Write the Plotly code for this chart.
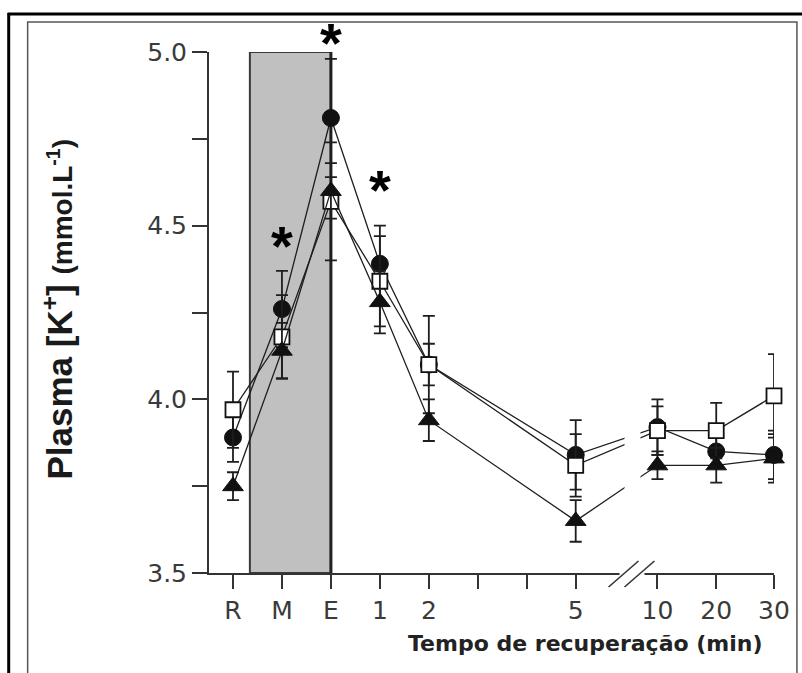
import plotly.graph_objects as go

# ---------------- data ----------------
categories = ["R", "M", "E", "1", "2", "5", "10", "20", "30"]
# positions of the categories on the (broken) x axis
x_axis_pos = [0, 1, 2, 3, 4, 7, 8.67, 9.87, 11.05]
tick_vals = [0, 1, 2, 3, 4, 7, 8.67, 9.87, 11.05]
tick_text = ["R", "M", "E", "1", "2", "5", "10", "20", "30"]
minor_x_ticks = [5, 6]  # unlabelled 3 and 4 min

circle_mean = [3.89, 4.26, 4.81, 4.39, 4.10, 3.84, 3.92, 3.85, 3.84]
circle_err = [0.07, 0.11, 0.17, 0.11, 0.06, 0.10, 0.08, 0.04, 0.07]
square_mean = [3.97, 4.18, 4.57, 4.34, 4.10, 3.81, 3.91, 3.91, 4.01]
square_err = [0.11, 0.12, 0.17, 0.13, 0.14, 0.09, 0.07, 0.08, 0.12]
triangle_mean = [3.75, 4.14, 4.60, 4.28, 3.94, 3.65, 3.81, 3.81, 3.83]
triangle_err = [0.04, 0.08, 0.08, 0.09, 0.06, 0.06, 0.04, 0.05, 0.07]

sig_categories = ["M", "E", "1"]
sig_y = [4.465, 5.049, 4.626]

y_tick_vals = [3.5, 4.0, 4.5, 5.0]
y_tick_text = ["3.5", "4.0", "4.5", "5.0"]
y_minor_ticks = [3.75, 4.25, 4.75]

# ---------------- layout geometry ----------------
W, H = 802, 673
L, R, T, B = 209, 26, 52, 100
PW, PH = W - L - R, H - T - B
X_RANGE = [-0.49, 11.05]
Y_RANGE = [3.5, 5.0]


def px_x(px):
    return (px - L) / PW


def px_y(py):
    return (H - B - py) / PH


LINE = "#1e1e1e"
fig = go.Figure()

series = [
    (circle_mean, circle_err, "circle", "#111111", 17, 1),
    (square_mean, square_err, "square", "white", 15, 1.8),
    (triangle_mean, triangle_err, "triangle-up", "#111111", 18, 1),
]
for mean, err, sym, fill, size, lw in series:
    fig.add_trace(go.Scatter(
        x=x_axis_pos, y=mean, mode="lines+markers",
        line=dict(color=LINE, width=1.3),
        marker=dict(symbol=sym, size=size, color=fill,
                    line=dict(color="#111111", width=lw)),
        error_y=dict(type="data", array=err, visible=True,
                     color=LINE, thickness=1.8, width=6),
        cliponaxis=False, showlegend=False,
    ))

# significance asterisks (y given in data units, mapped onto the y axis span)
for cat, yv in zip(sig_categories, sig_y):
    fig.add_annotation(
        x=x_axis_pos[categories.index(cat)], xref="x",
        y=(yv - Y_RANGE[0]) / (Y_RANGE[1] - Y_RANGE[0]), yref="paper",
        xanchor="center", yanchor="middle",
        text="<b>*</b>", showarrow=False, yshift=-8,
        font=dict(family="Liberation Sans", size=56, color="#000000"),
    )

shapes = []
# grey exercise block
shapes.append(dict(type="rect", xref="x", yref="y", x0=0.345, x1=2,
                   y0=Y_RANGE[0], y1=Y_RANGE[1], fillcolor="#c0c0c0",
                   line=dict(color="#3a3a3a", width=2), layer="below"))
shapes.append(dict(type="line", xref="x", yref="y", x0=2, x1=2,
                   y0=Y_RANGE[0], y1=Y_RANGE[1],
                   line=dict(color="#222222", width=3), layer="below"))
# axis break: blank out lines and axis
shapes.append(dict(type="rect", xref="paper", yref="paper",
                   x0=px_x(626), x1=px_x(642), y0=px_y(575), y1=1,
                   fillcolor="white", line=dict(width=0), layer="above"))
shapes.append(dict(type="rect", xref="paper", yref="paper",
                   x0=px_x(621), x1=px_x(646), y0=px_y(576), y1=px_y(570),
                   fillcolor="white", line=dict(width=0), layer="above"))
for cx in (625, 641):
    shapes.append(dict(type="line", xref="paper", yref="paper",
                       x0=px_x(cx - 15), y0=px_y(574 + 13),
                       x1=px_x(cx + 15), y1=px_y(574 - 13),
                       line=dict(color="#333333", width=1.6), layer="above"))
# picture frame
shapes.append(dict(type="line", xref="paper", yref="paper",
                   x0=px_x(8), x1=px_x(8), y0=px_y(13), y1=px_y(680),
                   line=dict(color="black", width=3)))
shapes.append(dict(type="line", xref="paper", yref="paper",
                   x0=px_x(7), x1=px_x(810), y0=px_y(14), y1=px_y(14),
                   line=dict(color="black", width=3)))
shapes.append(dict(type="path", xref="paper", yref="paper",
                   path=("M {},{} L {},{} L {},{} L {},{}".format(
                       px_x(27), px_y(680), px_x(27), px_y(22),
                       px_x(799), px_y(22), px_x(799), px_y(680))),
                   line=dict(color="#555555", width=1.5)))

fig.update_layout(
    width=W, height=H,
    margin=dict(l=L, r=R, t=T, b=B),
    plot_bgcolor="white", paper_bgcolor="white",
    shapes=shapes,
    xaxis=dict(range=X_RANGE, showgrid=False, zeroline=False,
               showline=True, linecolor="#333333", linewidth=2,
               ticks="outside", ticklen=14, tickwidth=2, tickcolor="#333333",
               tickvals=tick_vals, ticktext=tick_text,
               minor=dict(tickmode="array", tickvals=minor_x_ticks,
                          ticks="outside", ticklen=14, tickwidth=2,
                          tickcolor="#333333", showgrid=False),
               tickfont=dict(family="DejaVu Sans", size=25, color="#3a3a3a")),
    yaxis=dict(range=Y_RANGE, showgrid=False, zeroline=False,
               showline=True, linecolor="#333333", linewidth=2,
               ticks="outside", ticklen=15, tickwidth=2, tickcolor="#333333",
               tickvals=y_tick_vals, ticktext=y_tick_text,
               minor=dict(tickmode="array", tickvals=y_minor_ticks,
                          ticks="outside", ticklen=15, tickwidth=2,
                          tickcolor="#333333", showgrid=False),
               tickfont=dict(family="DejaVu Sans", size=25, color="#3a3a3a")),
)

fig.add_annotation(
    xref="paper", yref="paper", x=px_x(767), y=px_y(643),
    xanchor="right", yanchor="middle", showarrow=False,
    text="<b>Tempo de recuperação (min)</b>",
    font=dict(family="DejaVu Sans", size=22, color="#222222"),
)
fig.add_annotation(
    xref="paper", yref="paper", x=px_x(57), y=px_y(309),
    xanchor="center", yanchor="middle", showarrow=False, textangle=-90,
    text=("<b>Plasma [K<sup>+</sup>] "
          "<span style='font-size:28px'>(mmol.L<sup>-1</sup>)</span></b>"),
    font=dict(family="Liberation Sans", size=35, color="#1a1a1a"),
)

fig.write_html(
    "out.html",
    config={"displayModeBar": False},
    post_script="document.body.style.margin='0';"
                "document.body.style.overflow='hidden';",
)
